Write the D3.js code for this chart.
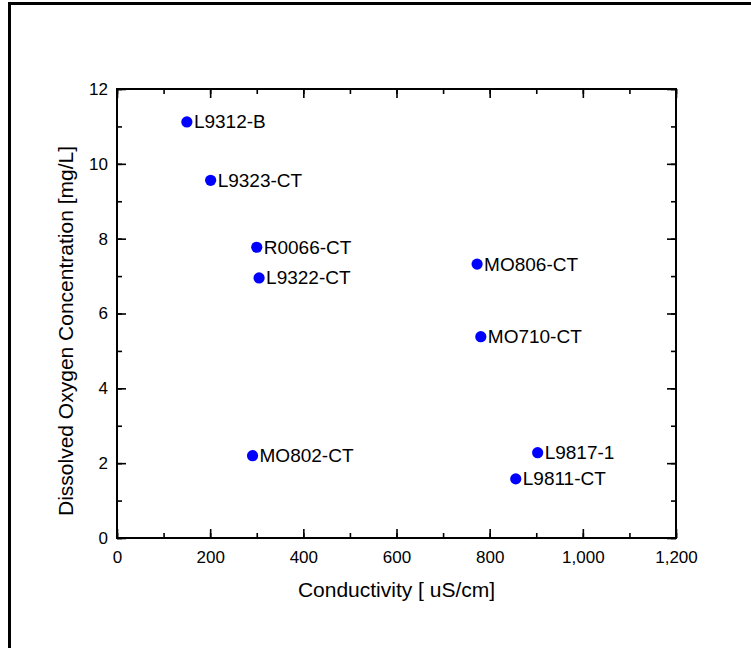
<!DOCTYPE html>
<html>
<head>
<meta charset="utf-8">
<script src="https://cdn.jsdelivr.net/npm/d3@7"></script>
<style>
  body { margin: 0; background: #fff; }
  svg { display: block; font-family: "Liberation Sans", Arial, sans-serif; }
</style>
</head>
<body>
<div id="chart"></div>
<script>
// sample sites
const sites = ["L9312-B", "L9323-CT", "R0066-CT", "L9322-CT", "MO806-CT", "MO710-CT", "MO802-CT", "L9817-1", "L9811-CT"];
const conductivity = [150, 201, 300, 305, 773, 781, 291, 903, 856];
const oxygen = [11.12, 9.56, 7.77, 6.95, 7.32, 5.38, 2.2, 2.28, 1.58];
const xTicks = [0, 200, 400, 600, 800, 1000, 1200];
const yTicks = [0, 2, 4, 6, 8, 10, 12];

const WIDTH = 751, HEIGHT = 648;
const MARGIN = { LEFT: 117, RIGHT: 75, TOP: 89, BOTTOM: 110 };
const w = WIDTH - MARGIN.LEFT - MARGIN.RIGHT;
const h = HEIGHT - MARGIN.TOP - MARGIN.BOTTOM;

const data = sites.map((s, i) => ({ name: s, x: conductivity[i], y: oxygen[i] }));

const svg = d3.select("#chart").append("svg")
  .attr("width", WIDTH)
  .attr("height", HEIGHT);

// outer frame (runs off the right and bottom edge)
svg.append("rect")
  .attr("x", 9.5).attr("y", 3.5)
  .attr("width", 900).attr("height", 900)
  .attr("fill", "none").attr("stroke", "#000").attr("stroke-width", 3);

const g = svg.append("g").attr("transform", `translate(${MARGIN.LEFT}, ${MARGIN.TOP})`);

const x = d3.scaleLinear().domain([0, 1200]).range([0, w]);
const y = d3.scaleLinear().domain([0, 12]).range([h, 0]);

const fmt = d3.format(",");
const minorX = d3.range(0, 1201, 100);
const minorY = d3.range(0, 13, 1);

// minor ticks first, then major ticks with labels
function axisStyle(sel) {
  sel.select(".domain").remove();
  sel.selectAll("line").attr("stroke", "#000").attr("stroke-width", 1.6);
  sel.selectAll("text").attr("fill", "#000").style("font-size", "17px");
}

g.append("g").attr("transform", `translate(0, ${h})`)
  .call(d3.axisBottom(x).tickValues(minorX).tickSize(-5).tickFormat(""))
  .call(axisStyle);
g.append("g").attr("transform", `translate(0, ${h})`)
  .call(d3.axisBottom(x).tickValues(xTicks).tickSize(-9).tickPadding(13).tickFormat(fmt))
  .call(axisStyle);
g.append("g")
  .call(d3.axisTop(x).tickValues(minorX).tickSize(-5).tickFormat(""))
  .call(axisStyle);
g.append("g")
  .call(d3.axisTop(x).tickValues(xTicks).tickSize(-9).tickFormat(""))
  .call(axisStyle);

g.append("g")
  .call(d3.axisLeft(y).tickValues(minorY).tickSize(-5).tickFormat(""))
  .call(axisStyle);
g.append("g")
  .call(d3.axisLeft(y).tickValues(yTicks).tickSize(-9).tickPadding(9).tickFormat(d3.format("d")))
  .call(axisStyle);
g.append("g").attr("transform", `translate(${w}, 0)`)
  .call(d3.axisRight(y).tickValues(minorY).tickSize(-5).tickFormat(""))
  .call(axisStyle);
g.append("g").attr("transform", `translate(${w}, 0)`)
  .call(d3.axisRight(y).tickValues(yTicks).tickSize(-9).tickFormat(""))
  .call(axisStyle);

// plot box
g.append("rect")
  .attr("width", w).attr("height", h)
  .attr("fill", "none").attr("stroke", "#000").attr("stroke-width", 2);

// axis titles
g.append("text")
  .attr("x", w / 2).attr("y", h + 59)
  .attr("text-anchor", "middle")
  .style("font-size", "21px")
  .text("Conductivity [ uS/cm]");

g.append("text")
  .attr("transform", `translate(${73 - MARGIN.LEFT}, ${331 - MARGIN.TOP}) rotate(-90)`)
  .attr("text-anchor", "middle")
  .style("font-size", "21px")
  .text("Dissolved Oxygen Concentration [mg/L]");

// points + labels
const pts = g.selectAll(".pt").data(data).enter().append("g").attr("class", "pt");
pts.append("circle")
  .attr("cx", (d) => x(d.x))
  .attr("cy", (d) => y(d.y))
  .attr("r", 5.6)
  .attr("fill", "#0000ff");
pts.append("text")
  .attr("x", (d) => x(d.x) + 7)
  .attr("y", (d) => y(d.y) + 6.5)
  .style("font-size", "19px")
  .text((d) => d.name);
</script>
</body>
</html>
